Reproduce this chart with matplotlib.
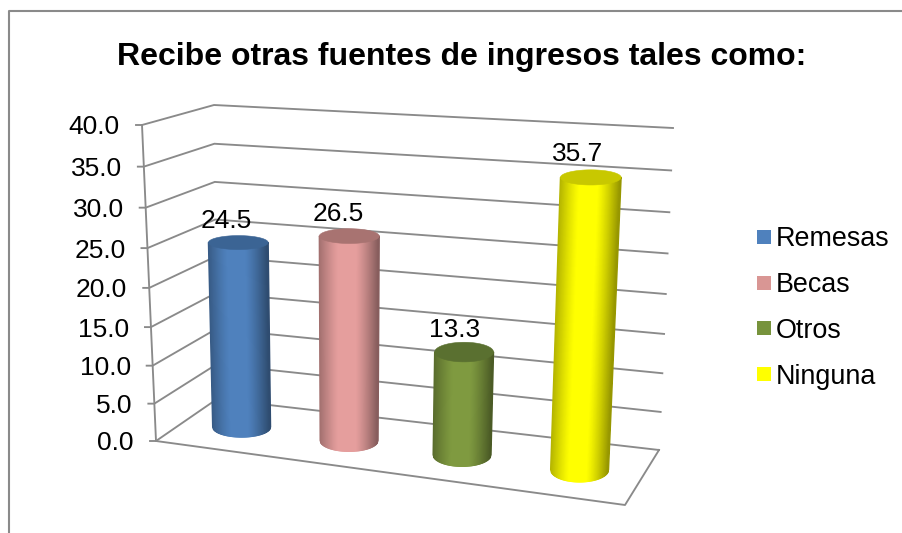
import numpy as np
import matplotlib
matplotlib.use("Agg")
import matplotlib.pyplot as plt
from matplotlib.collections import PolyCollection
from matplotlib.patches import Polygon, Rectangle

plt.rcParams['font.family'] = ['Liberation Sans', 'DejaVu Sans']

categories = ["Remesas", "Becas", "Otros", "Ninguna"]
values = [24.5, 26.5, 13.3, 35.7]
colors = ["#4f81bd", "#e59e9d", "#7f9a40", "#ffff00"]
legend_colors = ["#4f81bd", "#d99694", "#77933c", "#ffff00"]
top_colors = ["#3b6494", "#a87371", "#5a7030", "#c8c800"]
yticks = [0, 5, 10, 15, 20, 25, 30, 35, 40]
title = "Recibe otras fuentes de ingresos tales como:"

# corners of the chart box in pixels: (x position, depth, height)
corners = {
    (0, 0, 0): (156, 441), (0, 0, 1): (142, 125),
    (0, 1, 0): (217, 399), (0, 1, 1): (214, 105),
    (1, 0, 0): (625, 505), (1, 0, 1): (643, 160),
    (1, 1, 0): (659, 450), (1, 1, 1): (673, 128),
}
ymax = 40.0
bar_pos = [0.121, 0.357, 0.605, 0.863]
label_dx = [-12, -11, -10, -13]
label_dy = [-22, -22, -22, -23]
radius_x = 0.0635
radius_d = 0.23


def project(t, d, v):
    # trilinear map into pixels, height bent a bit for the perspective
    z = v / ymax
    z = z - 0.062 * z * (1 - z)
    p = np.zeros(2)
    for (i, j, k), c in corners.items():
        w = (t if i else 1 - t) * (d if j else 1 - d) * (z if k else 1 - z)
        p += w * np.array(c)
    return p


def ellipse_params(t, v):
    cx, cy = project(t, 0.5, v)
    a = (project(t + radius_x, 0.5, v)[0] - project(t - radius_x, 0.5, v)[0]) / 2
    b = abs(project(t, 1, v)[1] - project(t, 0, v)[1]) * radius_d
    return cx, cy, a, b


def shade(color, s):
    # s runs -1 (left edge) to 1 (right edge) across the cylinder
    rgb = np.array(matplotlib.colors.to_rgb(color))
    if s < 0:
        f = 1 - 0.30 * np.clip((-s - 0.35) / 0.65, 0, 1) ** 1.2
    else:
        f = 1 - 0.42 * np.clip((s - 0.25) / 0.75, 0, 1) ** 1.2
    return tuple(rgb * f)


def draw_cylinder(ax, t, v, color, top_color):
    cxb, cyb, ab, bb = ellipse_params(t, 0)
    cxt, cyt, at, bt = ellipse_params(t, v)
    s = np.linspace(-1, 1, 61)
    lower = np.sqrt(1 - s ** 2)
    xb, yb = cxb + ab * s, cyb + bb * lower
    xt, yt = cxt + at * s, cyt + bt * lower
    polys = []
    cols = []
    for i in range(60):
        polys.append([(xt[i], yt[i]), (xt[i + 1], yt[i + 1]), (xb[i + 1], yb[i + 1]), (xb[i], yb[i])])
        cols.append(shade(color, (s[i] + s[i + 1]) / 2))
    ax.add_collection(PolyCollection(polys, facecolors=cols, edgecolors=cols, linewidths=1.0, zorder=3))
    th = np.linspace(0, 2 * np.pi, 90)
    top = np.column_stack([cxt + at * np.cos(th), cyt + bt * np.sin(th)])
    ax.add_patch(Polygon(top, closed=True, facecolor=top_color, edgecolor=top_color, linewidth=0.4, zorder=4))


fig = plt.figure(figsize=(9.03, 5.33), dpi=100)
ax = fig.add_axes([0, 0, 1, 1])
ax.set_xlim(0, 903)
ax.set_ylim(533, 0)
ax.axis("off")

grey = "#8a8a8a"
# outer frame, open on the right and at the bottom
ax.plot([9.5, 9.5, 910], [540, 11, 11], color=grey, lw=1.5, zorder=1)

ax.text(462, 57, title, fontsize=23, fontweight="bold", ha="center", va="center")

# wall gridlines, side wall, ticks and labels
for v in yticks:
    front = project(0, 0, v)
    back = project(0, 1, v)
    right = project(1, 1, v)
    ax.plot([front[0] - 6, front[0], back[0], right[0]],
            [front[1], front[1], back[1], right[1]], color=grey, lw=1.35, zorder=1, solid_joinstyle="miter")
    ax.text(front[0] - 22, front[1] + 2.5, f"{v:.1f}", fontsize=19, ha="right", va="center")

# vertical axis and floor outline
p = [project(0, 0, 0), project(0, 0, ymax)]
ax.plot([p[0][0], p[1][0]], [p[0][1], p[1][1]], color=grey, lw=1.35, zorder=1)
p = [project(0, 0, 0), project(1, 0, 0), project(1, 1, 0)]
ax.plot([q[0] for q in p], [q[1] for q in p], color=grey, lw=1.35, zorder=1)

for t, v, c, tc, dx, dy in zip(bar_pos, values, colors, top_colors, label_dx, label_dy):
    draw_cylinder(ax, t, v, c, tc)
    x, y = project(t, 0.5, v)
    ax.text(x + dx, y + dy, f"{v:.1f}", fontsize=19, ha="center", va="center", zorder=5)

# legend
for i, (name, c) in enumerate(zip(categories, legend_colors)):
    y = 237 + i * 45.7
    ax.add_patch(Rectangle((757, y - 7), 14, 14, facecolor=c, edgecolor="none"))
    ax.text(776, y + 2.5, name, fontsize=19.4, ha="left", va="center")

fig.savefig("out.png", dpi=100)
